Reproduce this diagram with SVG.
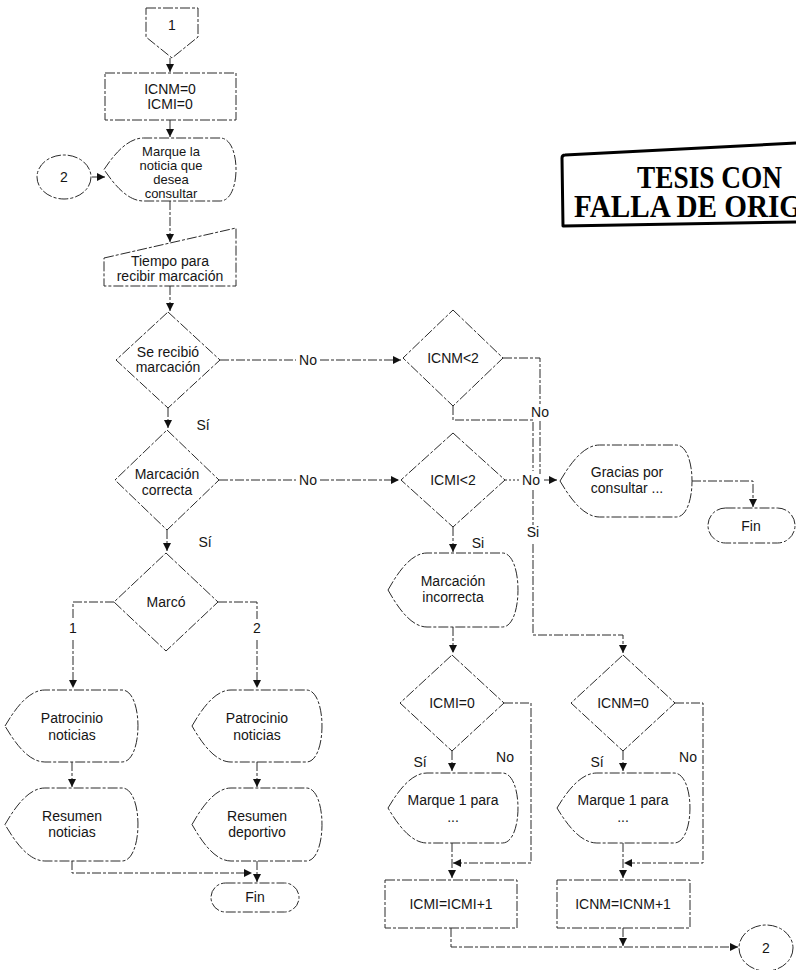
<svg xmlns="http://www.w3.org/2000/svg" width="796" height="970" viewBox="0 0 796 970">
  <defs>
    <marker id="arrow" viewBox="0 0 10 10" refX="10" refY="5" markerWidth="9" markerHeight="8" markerUnits="userSpaceOnUse" orient="auto">
      <path d="M0 0 L10 5 L0 10 Z" fill="#111"/>
    </marker>
    <style>
      .shape { fill: none; stroke: #2a2a2a; stroke-width: 1; stroke-dasharray: 10 2 3 2; }
      .line { fill: none; stroke: #2a2a2a; stroke-width: 1; stroke-dasharray: 9 2 3 2; }
      .dot { fill: none; stroke: #2a2a2a; stroke-width: 1; stroke-dasharray: 2 2; }
      .arr { marker-end: url(#arrow); }
      text { font-family: "Liberation Sans", Arial, sans-serif; font-size: 14px; fill: #151515; text-anchor: middle; }
      .small { font-size: 13px; }
      .stamp { fill: none; stroke: #000; stroke-width: 3; stroke-linejoin: round; }
      .stampText { font-family: "Liberation Serif", "Times New Roman", serif; font-weight: bold; font-size: 31px; fill: #000; text-anchor: start; }
    </style>
  </defs>
  <rect width="796" height="970" fill="#fff"/>

  <!-- rubber stamp in the upper right corner -->
  <g id="stamp">
    <path class="stamp" d="M796 143 L565 155 Q562 155 562 158 L563 226 L796 222"/>
    <text class="stampText" x="637" y="188" textLength="145" lengthAdjust="spacingAndGlyphs">TESIS CON</text>
    <text class="stampText" x="574" y="217" textLength="228" lengthAdjust="spacingAndGlyphs">FALLA DE ORIG</text>
  </g>

  <!-- connectors -->
  <g id="connectors">
    <path class="line arr" d="M170 58 V72"/>
    <path class="line arr" d="M170 120 V137"/>
    <path class="line arr" d="M92 177 H105"/>
    <path class="line arr" d="M170 201 V242"/>
    <path class="line arr" d="M170 286 V311"/>
    <path class="line" d="M220 360 H296"/>
    <path class="line arr" d="M320 360 H401"/>
    <path class="line arr" d="M168 408 V428"/>
    <path class="line" d="M219 480 H296"/>
    <path class="line arr" d="M320 480 H399"/>
    <path class="line arr" d="M167 530 V551"/>
    <path class="line" d="M114 602 H73 V619"/>
    <path class="line arr" d="M73 640 V688"/>
    <path class="line" d="M218 602 H257 V619"/>
    <path class="line arr" d="M257 640 V688"/>
    <path class="line arr" d="M72 762 V787"/>
    <path class="line arr" d="M257 762 V787"/>
    <path class="line arr" d="M72 861 V873 H252"/>
    <path class="line arr" d="M257 861 V882"/>

    <path class="line" d="M503 358 H540 V404"/>
    <path class="line" d="M540 421 V474"/>
    <path class="line" d="M453 406 V420 H533 V471"/>
    <path class="line" d="M533 490 V525"/>
    <path class="line arr" d="M533 544 V635 H623 V653"/>
    <path class="dot" d="M505 480 H520"/>
    <path class="line arr" d="M544 480 H557"/>
    <path class="line arr" d="M692 481 H753 V507"/>
    <path class="line arr" d="M453 527 V552"/>
    <path class="line arr" d="M453 627 V653"/>
    <path class="line arr" d="M452 751 V771"/>
    <path class="line arr" d="M504 703 H531 V863 H453"/>
    <path class="line arr" d="M452 843 V878"/>
    <path class="line arr" d="M623 751 V771"/>
    <path class="line arr" d="M675 703 H703 V863 H624"/>
    <path class="line arr" d="M623 843 V878"/>
    <path class="line arr" d="M451 928 V947 H738"/>
    <path class="line arr" d="M623 928 V946"/>

    <text x="308" y="365">No</text>
    <text x="308" y="485">No</text>
    <text x="203" y="430">Sí</text>
    <text x="205" y="547">Sí</text>
    <text x="73" y="633">1</text>
    <text x="257" y="633">2</text>
    <text x="540" y="417">No</text>
    <text x="531" y="485">No</text>
    <text x="533" y="537">Si</text>
    <text x="478" y="548">Si</text>
    <text x="420" y="767">Sí</text>
    <text x="505" y="762">No</text>
    <text x="597" y="767">Sí</text>
    <text x="688" y="762">No</text>
  </g>

  <!-- nodes -->
  <g id="start-1">
    <polygon class="shape" points="146,8 198,8 198,37 172,58 146,37"/>
    <text x="172" y="30">1</text>
  </g>

  <g id="init-counters">
    <rect class="shape" x="105" y="73" width="131" height="47"/>
    <text x="170" y="94">ICNM=0</text>
    <text x="170" y="109">ICMI=0</text>
  </g>

  <g id="connector-2-in">
    <ellipse class="shape" cx="64" cy="177" rx="27" ry="22"/>
    <text x="64" y="182">2</text>
  </g>

  <g id="ask-news">
    <path class="shape" d="M104 169.5 C114.6 153.75, 127.8 138, 143.6 138 H220.2 C241.3 138, 241.3 201, 220.2 201 H143.6 C127.8 201, 114.6 185.25, 104 169.5 Z"/>
    <text class="small" x="171" y="156">Marque la</text>
    <text class="small" x="171" y="170">noticia que</text>
    <text class="small" x="171" y="184">desea</text>
    <text class="small" x="171" y="198">consultar</text>
  </g>

  <g id="wait-input">
    <polygon class="shape" points="104,258 236,228 236,286 104,286"/>
    <text x="170" y="266">Tiempo para</text>
    <text x="170" y="281">recibir marcación</text>
  </g>

  <g id="received">
    <polygon class="shape" points="168,312 220,360 168,408 116,360"/>
    <text x="168" y="357">Se recibió</text>
    <text x="168" y="372">marcación</text>
  </g>

  <g id="valid">
    <polygon class="shape" points="167,430 219,480 167,530 115,480"/>
    <text x="167" y="479">Marcación</text>
    <text x="167" y="495">correcta</text>
  </g>

  <g id="choice">
    <polygon class="shape" points="166,553 218,602 166,651 114,602"/>
    <text x="166" y="607">Marcó</text>
  </g>

  <g id="sponsor-news">
    <path class="shape" d="M5 726 C15.6 708, 28.9 690, 44.9 690 H122 C143.3 690, 143.3 762, 122 762 H44.9 C28.9 762, 15.6 744, 5 726 Z"/>
    <text x="72" y="723">Patrocinio</text>
    <text x="72" y="740">noticias</text>
  </g>

  <g id="news-summary">
    <path class="shape" d="M5 824.5 C15.6 806.25, 28.9 788, 44.9 788 H122 C143.3 788, 143.3 861, 122 861 H44.9 C28.9 861, 15.6 842.75, 5 824.5 Z"/>
    <text x="72" y="821">Resumen</text>
    <text x="72" y="837">noticias</text>
  </g>

  <g id="sponsor-sports">
    <path class="shape" d="M192 726 C202.4 708, 215.4 690, 231 690 H306.4 C327.2 690, 327.2 762, 306.4 762 H231 C215.4 762, 202.4 744, 192 726 Z"/>
    <text x="257" y="723">Patrocinio</text>
    <text x="257" y="740">noticias</text>
  </g>

  <g id="sports-summary">
    <path class="shape" d="M192 824.5 C202.4 806.25, 215.4 788, 231 788 H306.4 C327.2 788, 327.2 861, 306.4 861 H231 C215.4 861, 202.4 842.75, 192 824.5 Z"/>
    <text x="257" y="821">Resumen</text>
    <text x="257" y="837">deportivo</text>
  </g>

  <g id="end-left">
    <rect class="shape" x="211" y="883" width="88" height="29" rx="14.5"/>
    <text x="255" y="902">Fin</text>
  </g>

  <g id="icnm-check">
    <polygon class="shape" points="453,310 503,358 453,406 403,358"/>
    <text x="453" y="363">ICNM&lt;2</text>
  </g>

  <g id="icmi-check">
    <polygon class="shape" points="453,433 505,480 453,527 401,480"/>
    <text x="453" y="485">ICMI&lt;2</text>
  </g>

  <g id="thanks">
    <path class="shape" d="M560 481 C570.6 463, 583.8 445, 599.6 445 H676.2 C697.3 445, 697.3 517, 676.2 517 H599.6 C583.8 517, 570.6 499, 560 481 Z"/>
    <text x="627" y="477">Gracias por</text>
    <text x="627" y="493">consultar ...</text>
  </g>

  <g id="end-right">
    <rect class="shape" x="708" y="508" width="87" height="35" rx="17.5"/>
    <text x="751" y="531">Fin</text>
  </g>

  <g id="wrong-input">
    <path class="shape" d="M388 590 C398.4 571.5, 411.4 553, 427 553 H502.4 C523.2 553, 523.2 627, 502.4 627 H427 C411.4 627, 398.4 608.5, 388 590 Z"/>
    <text x="453" y="586">Marcación</text>
    <text x="453" y="602">incorrecta</text>
  </g>

  <g id="icmi-zero">
    <polygon class="shape" points="452,655 504,703 452,751 400,703"/>
    <text x="452" y="708">ICMI=0</text>
  </g>

  <g id="icnm-zero">
    <polygon class="shape" points="623,655 675,703 623,751 571,703"/>
    <text x="623" y="708">ICNM=0</text>
  </g>

  <g id="prompt-left">
    <path class="shape" d="M388 808 C398.4 790.5, 411.4 773, 427 773 H502.4 C523.2 773, 523.2 843, 502.4 843 H427 C411.4 843, 398.4 825.5, 388 808 Z"/>
    <text x="453" y="805">Marque 1 para</text>
    <text x="453" y="822">...</text>
  </g>

  <g id="prompt-right">
    <path class="shape" d="M557 808 C567.6 790.5, 580.9 773, 596.9 773 H674 C695.3 773, 695.3 843, 674 843 H596.9 C580.9 843, 567.6 825.5, 557 808 Z"/>
    <text x="623" y="805">Marque 1 para</text>
    <text x="623" y="822">...</text>
  </g>

  <g id="icmi-inc">
    <rect class="shape" x="385" y="880" width="132" height="48"/>
    <text x="451" y="909">ICMI=ICMI+1</text>
  </g>

  <g id="icnm-inc">
    <rect class="shape" x="557" y="880" width="133" height="48"/>
    <text x="623" y="909">ICNM=ICNM+1</text>
  </g>

  <g id="connector-2-out">
    <ellipse class="shape" cx="766" cy="948" rx="27" ry="23"/>
    <text x="766" y="953">2</text>
  </g>
</svg>
